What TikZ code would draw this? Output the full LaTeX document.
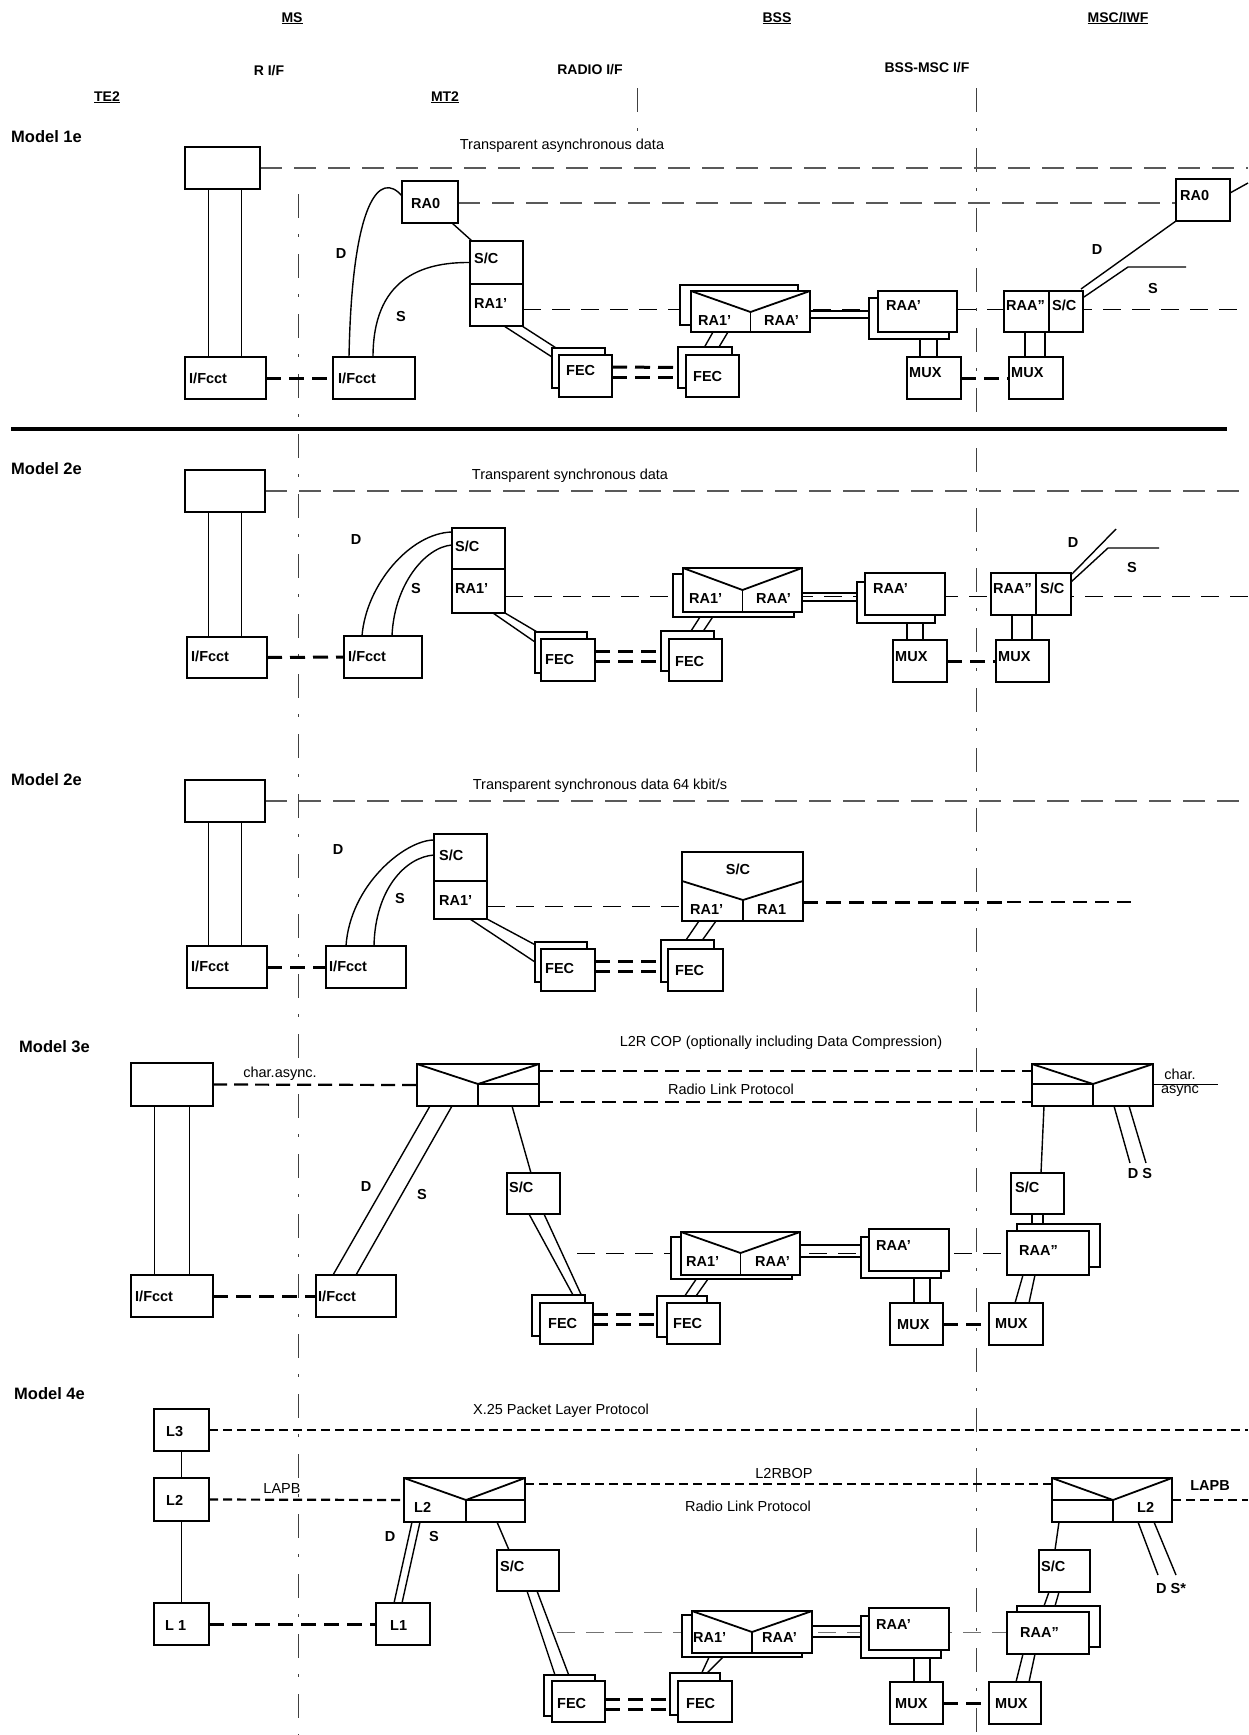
\documentclass[tikz,border=0pt]{standalone}
\usepackage{fontspec}
\setmainfont{Liberation Sans}
\usetikzlibrary{fit,calc,backgrounds}
\tikzset{
 bx/.style={draw, fill=white, line width=1.8pt, inner sep=0pt, outer sep=0pt, rectangle},
 bxl/.style={line width=1.8pt},
 lbl/.style={font=\fontsize{14.5}{17}\selectfont\bfseries, inner sep=0pt, text height=10.4pt, text depth=0pt, anchor=west},
 sl/.style={font=\fontsize{14.5}{17}\selectfont\bfseries, inner sep=0pt, text height=10.4pt, text depth=0pt},
 txt/.style={font=\fontsize{14.5}{17}\selectfont, inner sep=0pt, text height=10.4pt, text depth=0pt},
 hdr/.style={font=\fontsize{14}{17}\selectfont\bfseries, inner sep=0pt, text height=10pt, text depth=0pt},
 mdl/.style={font=\fontsize{16.5}{19}\selectfont\bfseries, inner sep=0pt, anchor=west, text height=12pt, text depth=0pt},
 conn/.style={line width=1.4pt},
 thinl/.style={line width=1pt},
 pdash/.style={line width=1.1pt, black!65, dash pattern=on 22pt off 12pt},
 tdash/.style={line width=1pt, dash pattern=on 18pt off 11pt},
 kdash/.style={line width=3pt, dash pattern=on 15pt off 8pt},
 ldash/.style={line width=2.2pt, dash pattern=on 14pt off 7pt},
 xdash/.style={line width=2.2pt, dash pattern=on 9pt off 5pt},
 mdash/.style={line width=2pt, dash pattern=on 14pt off 8pt},
 ddash/.style={line width=1pt, black!75, dash pattern=on 24pt off 16pt on 3pt off 17pt},
}
\newcommand\bx[5]{\node[bx, fit={(#2,#3) (#4,#5)}] (#1) {};}
\newcommand\bt[8]{\bx{#1}{#2}{#3}{#4}{#5}\node[lbl] (#1-t) at (#6,#7) {#8};}
\begin{document}
\begin{tikzpicture}[x=1pt,y=-1pt]
\useasboundingbox (0,0) rectangle (1248,1735);

% ---------------- headers
\node[hdr] (hMS) at (292,17) {\underline{MS}};
\node[hdr] (hBSS) at (777,17) {\underline{BSS}};
\node[hdr] (hMSC) at (1118,17) {\underline{MSC/IWF}};
\node[hdr] (hRIF) at (269,70) {R I/F};
\node[hdr] (hRAD) at (590,69) {RADIO I/F};
\node[hdr] (hBSC) at (927,67) {BSS-MSC I/F};
\node[hdr] (hTE) at (107,96) {\underline{TE2}};
\node[hdr] (hMT) at (445,96) {\underline{MT2}};

% ================= Model 1e
\node[mdl] (m1) at (11,136) {Model 1e};
\node[txt] (t1) at (562,144) {Transparent asynchronous data};
\bx{te1top}{185}{147}{260}{189}
\bt{te1if}{185}{357}{266}{399}{189}{378}{I/Fcct}
\bt{mt1if}{333}{357}{415}{399}{338}{378}{I/Fcct}
\bt{ra0L}{402}{181}{458}{223}{411}{203}{RA0}
\bt{sc1}{470}{241}{523}{284}{474}{258}{S/C}
\bt{ra1}{470}{284}{523}{326}{474}{303}{RA1'}
\bx{fec1b}{552}{348}{605}{388}
\bt{fec1}{559}{355}{612}{397}{566}{370}{FEC}
\bx{fec2b}{678}{347}{732}{388}
\bt{fec2}{686}{355}{739}{397}{693}{376}{FEC}
\bx{vb1b}{680}{285}{798}{325}
\bx{vb1}{691}{291}{810}{332}
\draw[bxl] (vb1.north west) -- (750.5,312) -- (vb1.north east);
\draw[bxl] (750.5,312) -- (750.5,332);
\node[lbl] (vb1-a) at (698,320) {RA1'};
\node[lbl] (vb1-b) at (764,320) {RAA'};
\bx{raa1b}{869}{298}{949}{339}
\bt{raa1}{878}{291}{957}{332}{886}{305}{RAA'}
\bt{mux1a}{907}{357}{961}{399}{909}{372}{MUX}
\bt{mux1b}{1009}{357}{1063}{399}{1011}{372}{MUX}
\bt{raa1r}{1004}{291}{1049}{332}{1006}{305}{RAA''}
\bt{sc1r}{1049}{291}{1083}{332}{1052}{305}{S/C}
\bt{ra0R}{1176}{179}{1230}{221}{1180}{195}{RA0}
\node[sl] (d1) at (341,253) {D};
\node[sl] (s1) at (401,316) {S};
\node[sl] (d1r) at (1097,249) {D};
\node[sl] (s1r) at (1153,288) {S};

% ================= Model 2e
\node[mdl] (m2) at (11,468) {Model 2e};
\node[txt] (t2) at (570,474) {Transparent synchronous data};
\bx{te2top}{185}{470}{265}{512}
\bt{te2if}{187}{637}{267}{678}{191}{656}{I/Fcct}
\bt{mt2if}{344}{636}{422}{678}{348}{656}{I/Fcct}
\bt{sc2}{452}{528}{505}{569}{455}{546}{S/C}
\bt{ra2}{452}{569}{505}{613}{455}{588}{RA1'}
\bx{fec3b}{535}{632}{587}{673}
\bt{fec3}{541}{639}{595}{681}{545}{659}{FEC}
\bx{fec4b}{661}{631}{714}{671}
\bt{fec4}{669}{639}{722}{681}{675}{661}{FEC}
\bx{vb2b}{673}{574}{794}{617}
\bx{vb2}{683}{568}{802}{612}
\draw[bxl] (vb2.north west) -- (742.5,590) -- (vb2.north east);
\draw[bxl] (742.5,590) -- (742.5,612);
\node[lbl] (vb2-a) at (689,598) {RA1'};
\node[lbl] (vb2-b) at (756,598) {RAA'};
\bx{raa2b}{857}{582}{935}{623}
\bt{raa2}{865}{573}{945}{615}{873}{588}{RAA'}
\bt{mux2a}{893}{640}{947}{682}{895}{656}{MUX}
\bt{mux2b}{996}{640}{1049}{682}{998}{656}{MUX}
\bt{raa2r}{991}{573}{1036}{615}{993}{588}{RAA''}
\bt{sc2r}{1036}{573}{1071}{615}{1040}{588}{S/C}
\node[sl] (d2) at (356,539) {D};
\node[sl] (s2) at (416,588) {S};
\node[sl] (d2r) at (1073,542) {D};
\node[sl] (s2r) at (1132,567) {S};

% ================= Model 2e (64 kbit/s)
\node[mdl] (m3) at (11,779) {Model 2e};
\node[txt] (t3) at (600,784) {Transparent synchronous data 64 kbit/s};
\bx{te3top}{185}{780}{265}{822}
\bt{te3if}{187}{946}{267}{988}{191}{966}{I/Fcct}
\bt{mt3if}{326}{946}{406}{988}{329}{966}{I/Fcct}
\bt{sc3}{434}{834}{487}{881}{439}{855}{S/C}
\bt{ra3}{434}{881}{487}{919}{439}{900}{RA1'}
\bx{fec5b}{535}{942}{587}{982}
\bt{fec5}{541}{949}{595}{991}{545}{968}{FEC}
\bx{fec6b}{661}{940}{714}{982}
\bt{fec6}{668}{949}{723}{991}{675}{970}{FEC}
\bx{scx}{682}{852}{803}{921}
\draw[bxl] (682,881) -- (743,900) -- (803,881);
\draw[bxl] (743,900) -- (743,921);
\node[sl] (scx-t) at (738,869) {S/C};
\node[lbl] (scx-a) at (690,909) {RA1'};
\node[lbl] (scx-b) at (757,909) {RA1};
\node[sl] (d3) at (338,849) {D};
\node[sl] (s3) at (400,898) {S};

% ================= Model 3e
\node[mdl] (m4) at (19,1046) {Model 3e};
\node[txt] (t4) at (781,1041) {L2R COP (optionally including Data Compression)};
\node[txt] (t4a) at (280,1072) {char.async.};
\node[txt] (t4b) at (731,1089) {Radio Link Protocol};
\node[txt, align=center, text height=, text depth=] (t4c) at (1180,1083) {char.\\[-3pt]async};
\bx{te4top}{131}{1063}{213}{1106}
\bt{te4if}{131}{1275}{213}{1317}{135}{1296}{I/Fcct}
\bt{mt4if}{316}{1275}{396}{1317}{318}{1296}{I/Fcct}
\bx{lrL}{417}{1064}{539}{1106}
\draw[bxl] (lrL.north west) -- (478,1084) -- (lrL.north east);
\draw[bxl] (478,1084) -- (539,1084);
\draw[bxl] (478,1084) -- (478,1106);
\bx{lrR}{1032}{1064}{1153}{1106}
\draw[bxl] (lrR.north west) -- (1093,1084) -- (lrR.north east);
\draw[bxl] (1032,1084) -- (1093,1084);
\draw[bxl] (1093,1084) -- (1093,1106);
\bt{scL3}{507}{1173}{560}{1214}{509}{1187}{S/C}
\bt{scR3}{1011}{1173}{1064}{1214}{1015}{1187}{S/C}
\bx{fec7b}{532}{1295}{585}{1336}
\bt{fec7}{540}{1303}{593}{1344}{548}{1323}{FEC}
\bx{fec8b}{657}{1296}{707}{1337}
\bt{fec8}{667}{1303}{720}{1344}{673}{1323}{FEC}
\bx{vb3b}{671}{1237}{792}{1279}
\bx{vb3}{681}{1232}{800}{1275}
\draw[bxl] (vb3.north west) -- (740.5,1253) -- (vb3.north east);
\draw[bxl] (740.5,1253) -- (740.5,1275);
\node[lbl] (vb3-a) at (686,1261) {RA1'};
\node[lbl] (vb3-b) at (755,1261) {RAA'};
\bx{raa3b}{861}{1237}{941}{1278}
\bt{raa3}{869}{1229}{949}{1271}{876}{1245}{RAA'}
\bx{raa3rb}{1017}{1224}{1100}{1267}
\bt{raa3r}{1007}{1231}{1089}{1275}{1019}{1250}{RAA''}
\bt{mux3a}{890}{1303}{943}{1345}{897}{1324}{MUX}
\bt{mux3b}{989}{1303}{1043}{1345}{995}{1323}{MUX}
\node[sl] (d4) at (366,1186) {D};
\node[sl] (s4) at (422,1194) {S};
\node[sl] (ds4) at (1140,1173) {D S};

% ================= Model 4e
\node[mdl] (m5) at (14,1393) {Model 4e};
\node[txt] (t5) at (561,1409) {X.25 Packet Layer Protocol};
\node[txt] (t5a) at (282,1488) {LAPB};
\node[txt] (t5b) at (784,1473) {L2RBOP};
\node[txt] (t5c) at (748,1506) {Radio Link Protocol};
\node[sl] (t5d) at (1210,1485) {LAPB};
\bt{l3}{154}{1409}{209}{1451}{166}{1431}{L3}
\bt{l2}{154}{1478}{209}{1521}{166}{1500}{L2}
\bt{l1}{154}{1603}{209}{1645}{165}{1625}{L 1}
\bt{mtl1}{376}{1603}{430}{1645}{390}{1625}{L1}
\bx{lrL4}{404}{1478}{525}{1522}
\draw[bxl] (lrL4.north west) -- (466,1500) -- (lrL4.north east);
\draw[bxl] (466,1500) -- (525,1500);
\draw[bxl] (466,1500) -- (466,1522);
\node[lbl] (lrL4-t) at (414,1507) {L2};
\bx{lrR4}{1052}{1478}{1172}{1522}
\draw[bxl] (lrR4.north west) -- (1113,1500) -- (lrR4.north east);
\draw[bxl] (1052,1500) -- (1113,1500);
\draw[bxl] (1113,1500) -- (1113,1522);
\node[lbl] (lrR4-t) at (1137,1507) {L2};
\bt{scL4}{497}{1550}{559}{1591}{500}{1566}{S/C}
\bt{scR4}{1039}{1550}{1090}{1592}{1041}{1566}{S/C}
\bx{fec9b}{544}{1675}{595}{1716}
\bt{fec9}{552}{1681}{605}{1722}{557}{1703}{FEC}
\bx{fec10b}{670}{1673}{720}{1715}
\bt{fec10}{678}{1681}{732}{1722}{686}{1703}{FEC}
\bx{vb4b}{682}{1615}{802}{1657}
\bx{vb4}{692}{1611}{812}{1653}
\draw[bxl] (vb4.north west) -- (752,1632) -- (vb4.north east);
\draw[bxl] (752,1632) -- (752,1653);
\node[lbl] (vb4-a) at (693,1637) {RA1'};
\node[lbl] (vb4-b) at (762,1637) {RAA'};
\bx{raa4b}{861}{1616}{941}{1658}
\bt{raa4}{869}{1608}{949}{1650}{876}{1624}{RAA'}
\bx{raa4rb}{1017}{1606}{1100}{1647}
\bt{raa4r}{1007}{1612}{1089}{1654}{1020}{1632}{RAA''}
\bt{mux4a}{890}{1682}{943}{1724}{895}{1703}{MUX}
\bt{mux4b}{989}{1682}{1041}{1724}{995}{1703}{MUX}
\node[sl] (d5) at (390,1536) {D};
\node[sl] (s5) at (434,1536) {S};
\node[sl] (ds5) at (1171,1588) {D S*};

% ================= connectors (behind boxes)
\begin{scope}[on background layer]
\fill[white] (0,0) rectangle (1248,1735);
% interface lines
\coordinate (rifT) at (298,194); \coordinate (rifB) at (298,1735);
\coordinate (bscT) at (976,88); \coordinate (bscB) at (976,1735);
\coordinate (radT) at (637,88); \coordinate (radB) at (637,133);
\draw[ddash] (rifT) -- (rifB);
\draw[ddash] (bscT) -- (bscB);
\draw[ddash] (radT) -- (radB);
\coordinate (sepL) at (11,429); \coordinate (sepR) at (1227,429);
\draw[line width=4pt] (sepL) -- (sepR);

% ---- Model 1e
\coordinate (e1a) at (1248,168);
\draw[pdash] (te1top.east) -- (e1a);
\draw[pdash] ($(ra0L.east)+(0,1)$) -- ($(ra0R.west)+(0,3)$);
\coordinate (e1b) at (1248,309);
\draw[tdash] ($(ra1.east)+(0,4)$) -- (e1b);
\draw[thinl] ($(te1top.south west)+(23.5,0)$) -- ($(te1if.north west)+(23.5,0)$);
\draw[thinl] ($(te1top.south west)+(56,0)$) -- ($(te1if.north west)+(56,0)$);
\draw[kdash] (te1if.east) -- (mt1if.west);
\draw[conn] ($(mt1if.north west)+(16,0)$) .. controls (352,200) and (380,170) .. ($(ra0L.west)+(0,-6)$);
\draw[conn] ($(mt1if.north west)+(40,0)$) .. controls (373,280) and (420,262) .. (sc1.west);
\draw[conn] ($(ra0L.south east)+(-6,0)$) -- ($(sc1.north west)+(2,0)$);
\draw[conn] ($(ra1.south west)+(34,0)$) -- ($(fec1b.north west)+(0,9)$);
\draw[conn] ($(ra1.south east)+(-1,0)$) -- ($(fec1.north west)+(8,0)$);
\draw[kdash] ($(fec1.east)+(0,-9)$) -- (fec2b.west);
\draw[kdash] ($(fec1.east)+(0,1)$) -- ($(fec2.west)+(0,1)$);
\draw[conn] ($(vb1.south west)+(22,0)$) -- ($(fec2.north west)+(14,0)$);
\draw[conn] ($(vb1.south west)+(37,0)$) -- ($(fec2b.north west)+(41,0)$);
\draw[conn] ($(vb1.east)+(0,-0.5)$) -- ($(raa1.west)+(0,-0.5)$);
\draw[conn] ($(vb1.east)+(0,6.5)$) -- ($(raa1b.west)+(0,-0.5)$);
\draw[conn] ($(raa1b.south west)+(51,0)$) -- ($(mux1a.north west)+(13,0)$);
\draw[conn] ($(raa1.south west)+(59,0)$) -- ($(mux1a.north west)+(30,0)$);
\draw[kdash] (mux1a.east) -- (mux1b.west);
\draw[conn] ($(raa1r.south west)+(21,0)$) -- ($(mux1b.north west)+(16,0)$);
\draw[conn] ($(raa1r.south west)+(41,0)$) -- ($(mux1b.north west)+(36,0)$);
\draw[conn] ($(sc1r.north east)+(-2,-2)$) -- (ra0R.south west);
\coordinate (s1e) at (1186,267);
\draw[conn] ($(sc1r.east)+(1,-14.5)$) -- (1128,267) -- (s1e);
\coordinate (r0e) at (1248,183);
\draw[conn] ($(ra0R.east)+(0,-7)$) -- (r0e);

% ---- Model 2e
\coordinate (e2a) at (1248,491);
\draw[pdash] (te2top.east) -- (e2a);
\coordinate (e2b) at (1248,596);
\draw[tdash] ($(ra2.east)+(0,5)$) -- (e2b);
\draw[thinl] ($(te2top.south west)+(23.5,0)$) -- ($(te2if.north west)+(21.5,0)$);
\draw[thinl] ($(te2top.south west)+(56,0)$) -- ($(te2if.north west)+(54,0)$);
\draw[kdash] (te2if.east) -- (mt2if.west);
\draw[conn] ($(mt2if.north west)+(18,0)$) .. controls (366,585) and (410,533) .. ($(sc2.north west)+(0,4)$);
\draw[conn] ($(mt2if.north west)+(48,0)$) .. controls (394,585) and (425,547) .. ($(sc2.west)+(0,-3.5)$);
\draw[conn] ($(ra2.south west)+(41,0)$) -- ($(fec3b.north west)+(0,10)$);
\draw[conn] (ra2.south east) -- ($(fec3.north west)+(8,0)$);
\draw[kdash] ($(fec3.east)+(0,-9)$) -- (fec4b.west);
\draw[kdash] ($(fec3.east)+(0,1)$) -- ($(fec4.west)+(0,1)$);
\draw[conn] ($(vb2b.south west)+(27,0)$) -- ($(fec4b.north west)+(30,0)$);
\draw[conn] ($(vb2.south west)+(33,0)$) -- ($(fec4.north west)+(29,0)$);
\draw[conn] ($(vb2.east)+(0,3)$) -- ($(raa2.west)+(0,-1)$);
\draw[conn] ($(vb2.east)+(0,11)$) -- ($(raa2b.west)+(0,-1.5)$);
\draw[conn] ($(raa2b.south west)+(50,0)$) -- ($(mux2a.north west)+(14,0)$);
\draw[conn] ($(raa2b.south west)+(66,0)$) -- ($(mux2a.north west)+(30,0)$);
\draw[kdash] (mux2a.east) -- (mux2b.west);
\draw[conn] ($(raa2r.south west)+(21,0)$) -- ($(mux2b.north west)+(16,0)$);
\draw[conn] ($(raa2r.south west)+(41,0)$) -- ($(mux2b.north west)+(36,0)$);
\coordinate (d2e) at (1116,529);
\draw[conn] ($(sc2r.north east)+(1,1)$) -- (d2e);
\coordinate (s2e) at (1159,548);
\draw[conn] ($(sc2r.east)+(0,-12)$) -- (1108,548) -- (s2e);

% ---- Model 2e 64k
\coordinate (e3a) at (1248,801);
\draw[pdash] (te3top.east) -- (e3a);
\draw[tdash] ($(ra3.east)+(0,6)$) -- ($(scx.west)+(0,19.5)$);
\draw[thinl] ($(te3top.south west)+(23.5,0)$) -- ($(te3if.north west)+(21.5,0)$);
\draw[thinl] ($(te3top.south west)+(56,0)$) -- ($(te3if.north west)+(54,0)$);
\draw[kdash] (te3if.east) -- (mt3if.west);
\draw[conn] ($(mt3if.north west)+(20,0)$) .. controls (350,885) and (405,840) .. ($(sc3.north west)+(0,6)$);
\draw[conn] ($(mt3if.north west)+(48,0)$) .. controls (375,890) and (405,857) .. ($(sc3.west)+(0,-2.5)$);
\draw[conn] ($(ra3.south west)+(36,0)$) -- ($(fec5b.north west)+(0,20)$);
\draw[conn] (ra3.south east) -- ($(fec5.north west)+(2,0)$);
\draw[kdash] ($(fec5.east)+(0,-9)$) -- (fec6b.west);
\draw[kdash] ($(fec5.east)+(0,1)$) -- ($(fec6.west)+(0,1)$);
\draw[conn] ($(scx.south west)+(17,0)$) -- ($(fec6b.north west)+(25,0)$);
\draw[conn] ($(scx.south west)+(34,0)$) -- ($(fec6.north west)+(28,0)$);
\coordinate (k3m) at (1007,902); \coordinate (k3e) at (1137,902);
\draw[kdash] ($(scx.east)+(0,15.5)$) -- (k3m);
\draw[mdash] (k3m) -- (k3e);

% ---- Model 3e
\draw[ldash] (te4top.east) -- (lrL.west);
\draw[ldash] ($(lrL.east)+(0,-14)$) -- ($(lrR.west)+(0,-14)$);
\draw[ldash] ($(lrL.east)+(0,17)$) -- ($(lrR.west)+(0,17)$);
\coordinate (ca) at (1218,1084);
\draw[thinl] ($(lrR.east)+(0,-1)$) -- (ca);
\draw[thinl] ($(te4top.south west)+(23,0)$) -- ($(te4if.north west)+(23,0)$);
\draw[thinl] ($(te4top.south west)+(58,0)$) -- ($(te4if.north west)+(58,0)$);
\draw[kdash] (te4if.east) -- (mt4if.west);
\draw[conn] ($(lrL.south west)+(13,0)$) -- ($(mt4if.north west)+(17,0)$);
\draw[conn] ($(lrL.south west)+(35,0)$) -- ($(mt4if.north west)+(40,0)$);
\draw[conn] ($(lrL.south west)+(95,0)$) -- ($(scL3.north west)+(24,0)$);
\draw[conn] ($(scL3.south west)+(22,0)$) -- ($(fec7b.north west)+(41,0)$);
\draw[conn] ($(scL3.south west)+(37,0)$) -- ($(fec7.north west)+(45,0)$);
\draw[kdash] ($(fec7.east)+(0,-9.5)$) -- ($(fec8b.west)+(0,-2.5)$);
\draw[kdash] ($(fec7.east)+(0,0.5)$) -- ($(fec8.west)+(0,0.5)$);
\draw[conn] ($(vb3.south west)+(18,0)$) -- ($(fec8.north west)+(13,0)$);
\draw[conn] ($(vb3b.south west)+(37,0)$) -- ($(fec8b.north west)+(39,0)$);
\coordinate (td3) at (577,1253);
\draw[tdash] (td3) -- (raa3r.west);
\draw[conn] ($(vb3.east)+(0,-8.5)$) -- ($(raa3.west)+(0,-5)$);
\draw[conn] ($(vb3.east)+(0,3.5)$) -- ($(raa3b.west)+(0,-0.5)$);
\draw[conn] ($(raa3b.south west)+(53,0)$) -- ($(mux3a.north west)+(24,0)$);
\draw[conn] ($(raa3b.south west)+(69,0)$) -- ($(mux3a.north west)+(40,0)$);
\draw[kdash] (mux3a.east) -- (mux3b.west);
\draw[conn] ($(raa3r.south west)+(16,0)$) -- ($(mux3b.north west)+(26,0)$);
\draw[conn] ($(raa3r.south west)+(28,0)$) -- ($(mux3b.north west)+(40,0)$);
\draw[conn] ($(scR3.south west)+(21,0)$) -- ($(raa3rb.north west)+(15,0)$);
\draw[conn] ($(scR3.south west)+(32,0)$) -- ($(raa3rb.north west)+(26,0)$);
\draw[conn] ($(lrR.south west)+(12,0)$) -- ($(scR3.north west)+(30,0)$);
\coordinate (ds4a) at (1130,1163); \coordinate (ds4b) at (1146,1163);
\draw[conn] ($(lrR.south west)+(82,0)$) -- (ds4a);
\draw[conn] ($(lrR.south west)+(97,0)$) -- (ds4b);

% ---- Model 4e
\coordinate (e5a) at (1248,1430);
\draw[xdash] (l3.east) -- (e5a);
\draw[conn] (l3) -- (l2);
\draw[conn] (l2) -- (l1);
\draw[xdash] (l2.east) -- (lrL4.west);
\draw[xdash] ($(lrL4.east)+(0,-16)$) -- ($(lrR4.west)+(0,-16)$);
\coordinate (e5b) at (1248,1500);
\draw[xdash] (lrR4.east) -- (e5b);
\draw[kdash] (l1.east) -- (mtl1.west);
\draw[conn] ($(lrL4.south west)+(8,0)$) -- ($(mtl1.north west)+(18,0)$);
\draw[conn] ($(lrL4.south west)+(16,0)$) -- ($(mtl1.north west)+(26,0)$);
\draw[conn] ($(lrL4.south west)+(93,0)$) -- ($(scL4.north west)+(12,0)$);
\draw[conn] ($(scL4.south west)+(30,0)$) -- ($(fec9b.north west)+(11,0)$);
\draw[conn] ($(scL4.south west)+(40,0)$) -- ($(fec9.north west)+(19,0)$);
\draw[kdash] ($(fec9.east)+(0,-2.5)$) -- ($(fec10b.west)+(0,5)$);
\draw[kdash] ($(fec9.east)+(0,7.5)$) -- ($(fec10.west)+(0,7.5)$);
\draw[conn] ($(vb4.south west)+(19,0)$) -- ($(fec10.north west)+(20,0)$);
\draw[conn] ($(vb4.south west)+(35,0)$) -- ($(fec10b.north west)+(37,0)$);
\coordinate (td4) at (557,1632);
\draw[tdash, black!55] (td4) -- ($(raa4r.west)+(0,-1)$);
\draw[conn] ($(vb4.east)+(0,-6)$) -- ($(raa4.west)+(0,-3)$);
\draw[conn] ($(vb4.east)+(0,5)$) -- (raa4b.west);
\draw[conn] ($(raa4b.south west)+(53,0)$) -- ($(mux4a.north west)+(24,0)$);
\draw[conn] ($(raa4b.south west)+(69,0)$) -- ($(mux4a.north west)+(40,0)$);
\draw[kdash] (mux4a.east) -- (mux4b.west);
\draw[conn] ($(raa4r.south west)+(16,0)$) -- ($(mux4b.north west)+(27,0)$);
\draw[conn] ($(raa4r.south west)+(28,0)$) -- ($(mux4b.north west)+(40,0)$);
\draw[conn] ($(scR4.south west)+(10,0)$) -- ($(raa4rb.north west)+(27,0)$);
\draw[conn] ($(scR4.south west)+(20,0)$) -- ($(raa4rb.north west)+(38,0)$);
\draw[conn] ($(lrR4.south west)+(7,0)$) -- ($(scR4.north west)+(16,0)$);
\coordinate (ds5a) at (1158,1575); \coordinate (ds5b) at (1176,1575);
\draw[conn] ($(lrR4.south west)+(86,0)$) -- (ds5a);
\draw[conn] ($(lrR4.south west)+(102,0)$) -- (ds5b);
\end{scope}
\end{tikzpicture}
\end{document}
